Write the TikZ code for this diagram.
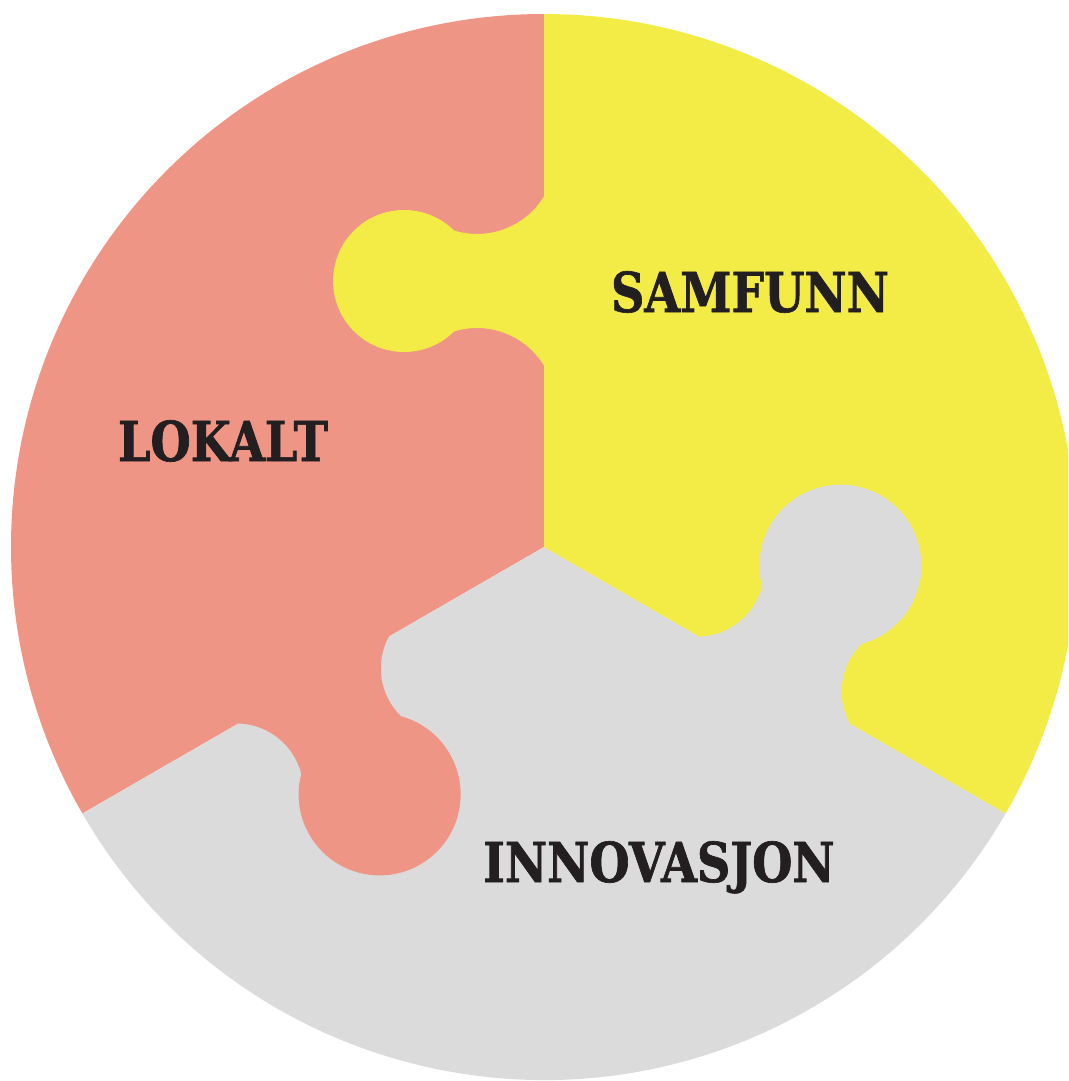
\documentclass[tikz,border=0pt]{standalone}
\usepackage{fontspec}
\newfontfamily\lblfont{DejaVu Serif}[FakeStretch=0.84,FakeBold=1.2]
\definecolor{lokred}{HTML}{EE9586}
\definecolor{samyel}{HTML}{F3EC46}
\definecolor{inngray}{HTML}{DBDBDB}
\definecolor{txtdark}{HTML}{231F20}
\tikzset{
  lbl/.style={anchor=base, inner sep=0pt, text=txtdark, font=\lblfont\bfseries\fontsize{55}{60}\selectfont},
  bigtab/.pic={\fill[pic actions] (179.2,0) arc[start angle=-58.3,end angle=15.6,radius=67]
      arc[start angle=224.75,end angle=-44.75,radius=81]
      arc[start angle=164.4,end angle=238.3,radius=67] -- (352.8,-2) -- (179.2,-2) -- cycle;},
  smalltab/.pic={\fill[pic actions] (181.4,0) arc[start angle=-58.6,end angle=17.05,radius=78.5]
      arc[start angle=224.7,end angle=-44.7,radius=71]
      arc[start angle=162.95,end angle=238.6,radius=78.5] -- (350.6,-2) -- (181.4,-2) -- cycle;}
}
\begin{document}
\begin{tikzpicture}[x=1pt,y=1pt]
\useasboundingbox (0,0) rectangle (1068,-1081);
\clip (0,0) rectangle (1068,-1081);
\coordinate (O) at (544,-547);
% sectors
\begin{scope}[shift={(O)}]
  \fill[lokred] (0,0) -- (90:533) arc[start angle=90,end angle=210,radius=533] -- cycle;
  \fill[inngray] (0,0) -- (210:533) arc[start angle=210,end angle=330,radius=533] -- cycle;
  \fill[samyel] (0,0) -- (330:533) arc[start angle=-30,end angle=90,radius=533] -- cycle;
  % tabs
  \pic[rotate=90, fill=samyel] {smalltab};
  \pic[rotate=330, fill=inngray] {bigtab};
  \pic[rotate=210, fill=lokred] {bigtab};
\end{scope}
% labels
\node[lbl] (lokalt) at (223,-461) {LOKALT};
\node[lbl] (samfunn) at (750,-312) {SAMFUNN};
\node[lbl] (innovasjon) at (659,-882) {INNOVASJON};
\end{tikzpicture}
\end{document}
